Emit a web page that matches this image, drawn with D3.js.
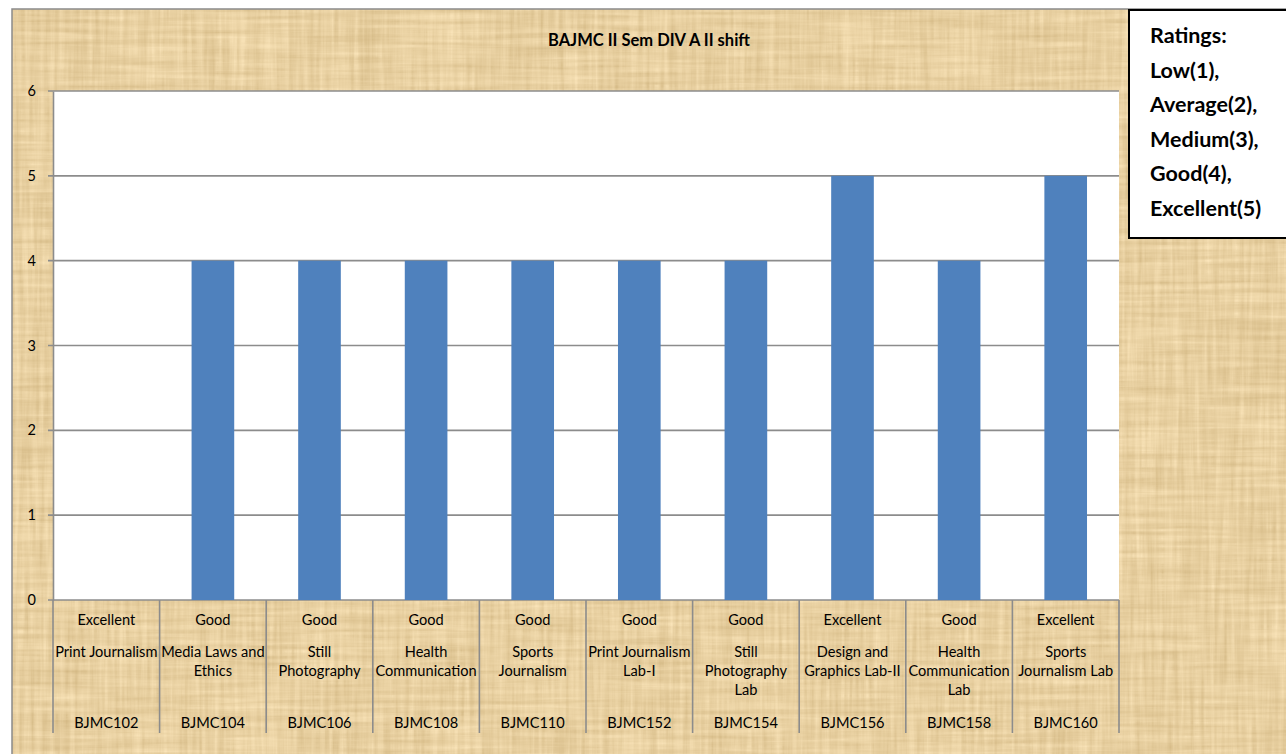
<!DOCTYPE html>
<html>
<head>
<meta charset="utf-8">
<script src="https://cdn.jsdelivr.net/npm/d3@7"></script>
<style>
  body { margin: 0; background: #fff; }
  svg { display: block; font-family: Lato, "Open Sans", sans-serif; }
</style>
</head>
<body>
<div id="chart"></div>
<script>
// data
var codes = ["BJMC102", "BJMC104", "BJMC106", "BJMC108", "BJMC110", "BJMC152", "BJMC154", "BJMC156", "BJMC158", "BJMC160"];
var subjects = ["Print Journalism", "Media Laws and|Ethics", "Still|Photography", "Health|Communication", "Sports|Journalism",
    "Print Journalism|Lab-I", "Still|Photography|Lab", "Design and|Graphics Lab-II", "Health|Communication|Lab", "Sports|Journalism Lab"];
var ratings = ["Excellent", "Good", "Good", "Good", "Good", "Good", "Good", "Excellent", "Good", "Excellent"];
var values = [0, 4, 4, 4, 4, 4, 4, 5, 4, 5];
var yTicks = [0, 1, 2, 3, 4, 5, 6];
var legendLines = ["Ratings:", "Low(1),", "Average(2),", "Medium(3),", "Good(4),", "Excellent(5)"];
var title = "BAJMC II Sem DIV A II shift";

const width = 1286, height = 754;
const plot = { left: 53, right: 1119, top: 91, bottom: 600 };

var svg = d3.select("#chart").append("svg")
    .attr("width", width)
    .attr("height", height);

// papyrus-like texture
var defs = svg.append("defs");
var f = defs.append("filter").attr("id", "papyrus")
    .attr("color-interpolation-filters", "sRGB")
    .attr("x", 0).attr("y", 0).attr("width", "100%").attr("height", "100%");
f.append("feTurbulence").attr("type", "fractalNoise").attr("baseFrequency", "0.01 0.2")
    .attr("numOctaves", 3).attr("seed", 4).attr("result", "n1");
f.append("feTurbulence").attr("type", "fractalNoise").attr("baseFrequency", "0.2 0.01")
    .attr("numOctaves", 3).attr("seed", 9).attr("result", "n2");
f.append("feComposite").attr("in", "n1").attr("in2", "n2").attr("operator", "arithmetic")
    .attr("k2", 0.5).attr("k3", 0.5).attr("result", "n");
f.append("feColorMatrix").attr("in", "n").attr("type", "matrix")
    .attr("values", "0.22 0 0 0 0.80  0.25 0 0 0 0.69  0.3 0 0 0 0.48  0 0 0 0 1");

svg.append("rect")
    .attr("x", 12).attr("y", 9)
    .attr("width", width).attr("height", height)
    .attr("fill", "#e9d29e")
    .attr("filter", "url(#papyrus)");
svg.append("rect")
    .attr("x", 12).attr("y", 9)
    .attr("width", width).attr("height", height)
    .attr("fill", "none")
    .attr("stroke", "#8a8a8a")
    .attr("stroke-width", 1.5);

var x = d3.scaleBand()
    .domain(codes)
    .range([plot.left, plot.right])
    .padding(0);

var y = d3.scaleLinear()
    .domain([0, 6])
    .range([plot.bottom, plot.top]);

svg.append("rect")
    .attr("x", plot.left).attr("y", plot.top)
    .attr("width", plot.right - plot.left)
    .attr("height", plot.bottom - plot.top)
    .attr("fill", "#fff");

// gridlines + ticks
svg.append("g")
    .selectAll("line")
    .data(yTicks)
    .enter()
    .append("line")
    .attr("x1", plot.left - 5)
    .attr("x2", plot.right)
    .attr("y1", d => y(d))
    .attr("y2", d => y(d))
    .attr("stroke", "#8c8c8c")
    .attr("stroke-width", 1.6);

var axisY = d3.axisLeft(y)
    .tickValues(yTicks)
    .tickFormat(d3.format("d"))
    .tickSize(0)
    .tickPadding(17);

var gy = svg.append("g")
    .attr("transform", "translate(" + plot.left + ",0)")
    .call(axisY);
gy.select(".domain").attr("stroke", "#8c8c8c").attr("stroke-width", 1.6);
gy.selectAll("text")
    .attr("font-family", "Lato, sans-serif")
    .attr("font-size", 14.5)
    .attr("fill", "#000");

// bars
var bw = x.bandwidth() * 0.4;
svg.append("g")
    .selectAll(".bars")
    .data(values)
    .enter()
    .append("rect")
    .attr("class", "bars")
    .attr("x", (d, i) => x(codes[i]) + (x.bandwidth() - bw) / 2)
    .attr("y", d => y(d))
    .attr("width", bw)
    .attr("height", d => y(0) - y(d))
    .attr("fill", "#4f81bd");

// category dividers
var dividers = codes.map(c => x(c)).concat([plot.right]);
svg.append("g")
    .selectAll("line")
    .data(dividers)
    .enter()
    .append("line")
    .attr("x1", d => d).attr("x2", d => d)
    .attr("y1", plot.bottom)
    .attr("y2", 733)
    .attr("stroke", "#8c8c8c")
    .attr("stroke-width", 1.6);

// category labels
var cat = svg.append("g")
    .attr("font-size", 14.6)
    .attr("text-anchor", "middle")
    .attr("fill", "#000");

cat.selectAll(".rating")
    .data(ratings)
    .enter()
    .append("text")
    .attr("x", (d, i) => x(codes[i]) + x.bandwidth() / 2)
    .attr("y", 625)
    .text(d => d);

cat.selectAll(".subject")
    .data(subjects)
    .enter()
    .append("text")
    .attr("x", (d, i) => x(codes[i]) + x.bandwidth() / 2)
    .attr("y", 657)
    .each(function (d) {
        var t = d3.select(this);
        var cx = t.attr("x");
        d.split("|").forEach(function (line, k) {
            t.append("tspan").attr("x", cx).attr("dy", k === 0 ? 0 : 19).text(line);
        });
    });

cat.selectAll(".code")
    .data(codes)
    .enter()
    .append("text")
    .attr("x", d => x(d) + x.bandwidth() / 2)
    .attr("y", 728)
    .text(d => d);

// title
svg.append("text")
    .attr("x", 649)
    .attr("y", 46)
    .attr("text-anchor", "middle")
    .attr("font-size", 16.5)
    .attr("font-weight", "bold")
    .text(title);

// ratings box
svg.append("rect")
    .attr("x", 1129).attr("y", 10)
    .attr("width", 170).attr("height", 228)
    .attr("fill", "#fff")
    .attr("stroke", "#000")
    .attr("stroke-width", 2);

svg.append("g")
    .selectAll("text")
    .data(legendLines)
    .enter()
    .append("text")
    .attr("x", 1150)
    .attr("y", (d, i) => 43 + i * 34.6)
    .attr("font-size", 21.5)
    .attr("font-weight", "bold")
    .text(d => d);
</script>
</body>
</html>
